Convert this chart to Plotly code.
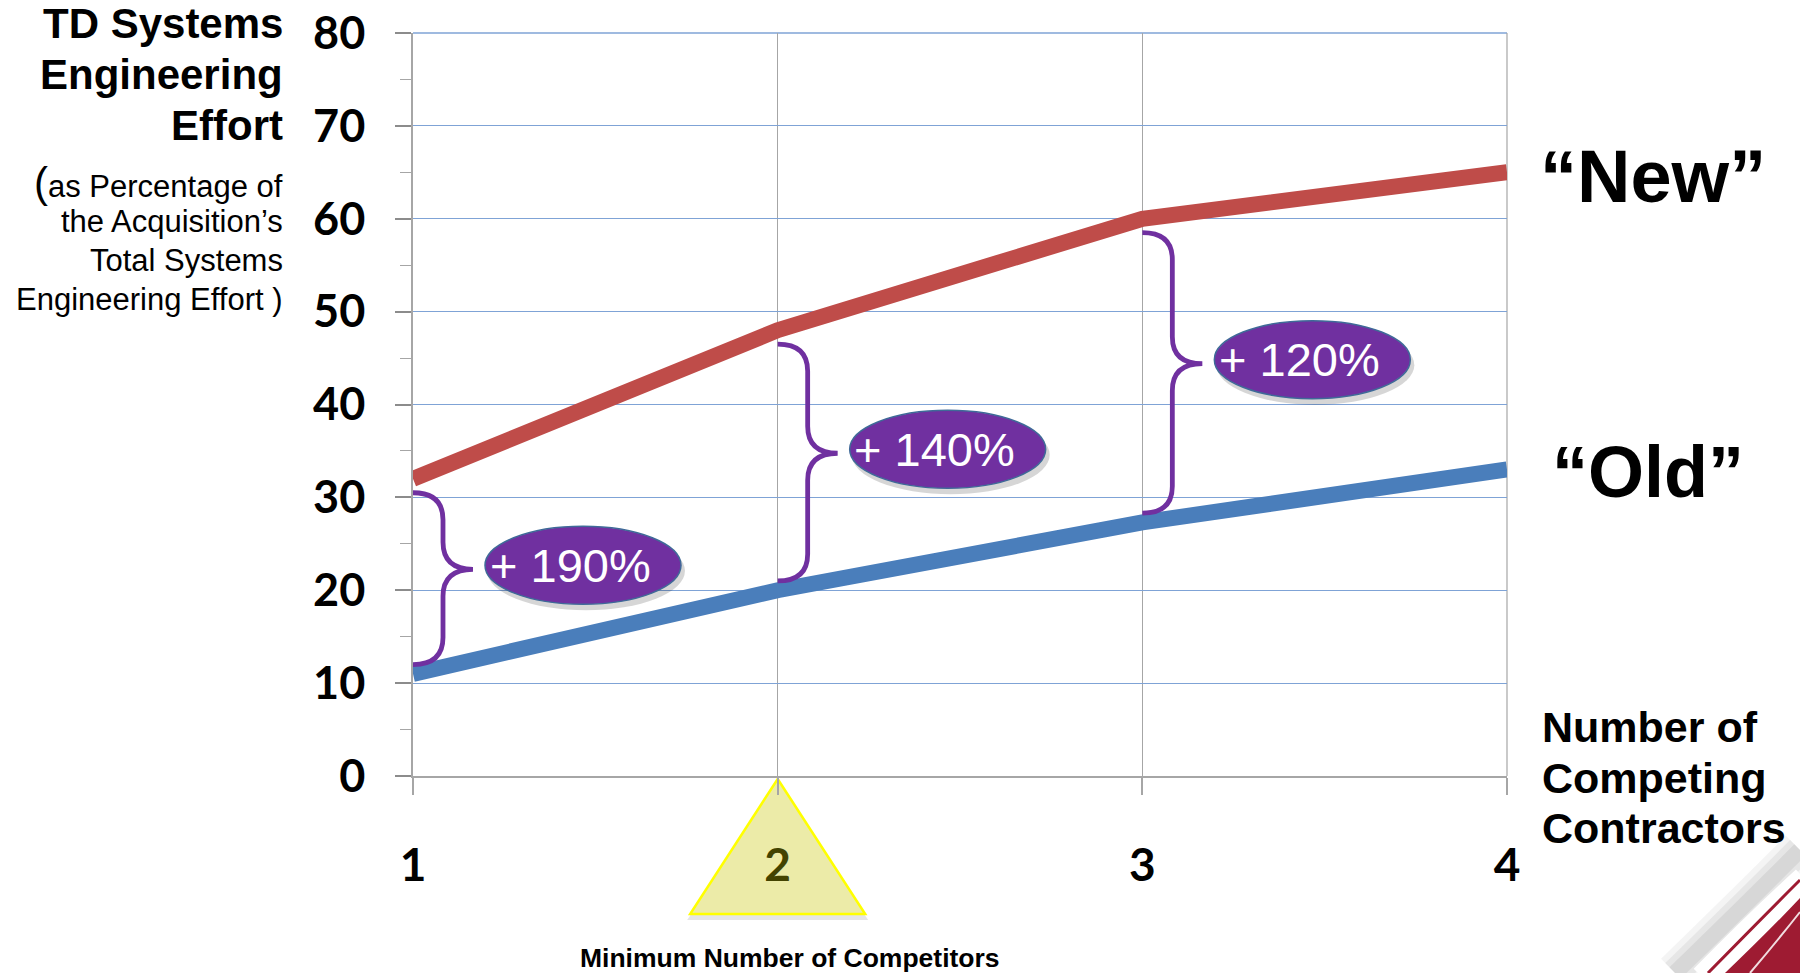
import plotly.graph_objects as go

# ---------------- data ----------------
competitors = [1, 2, 3, 4]
new_effort = [32, 48, 60, 65]
old_effort = [11, 20, 27.3, 33]
pct_labels = ["+ 190%", "+ 140%", "+ 120%"]
x_tick_text = ["1", "<span style='color:#434300'>2</span>", "3", "4"]
y_tick_vals = [0, 10, 20, 30, 40, 50, 60, 70, 80]

# ---------------- layout geometry ----------------
W, H = 1800, 973
L, R, T, B = 413, 293, 33, 197
PW, PH = W - L - R, H - T - B
XMIN, XMAX, YMIN, YMAX = 1, 4, 0, 80
UX = PW / (XMAX - XMIN)   # px per x unit
UY = PH / (YMAX - YMIN)   # px per y unit


def px(xp):
    return (xp - L) / PW


def py(yp):
    return (H - B - yp) / PH


ARIAL = "Liberation Sans, Arial, sans-serif"
TICKF = "Lato, Calibri, sans-serif"
PURPLE = "#7030A0"

fig = go.Figure()
fig.add_trace(go.Scatter(x=competitors, y=new_effort, mode="lines",
                         line=dict(color="#BF4C49", width=16), name="New",
                         showlegend=False))
fig.add_trace(go.Scatter(x=competitors, y=old_effort, mode="lines",
                         line=dict(color="#4A7EBB", width=16), name="Old",
                         showlegend=False))

shapes = []
annotations = []


def note(x, y, text, size, xanchor="center", yanchor="middle", **kw):
    d = dict(x=x, y=y, xref="paper", yref="paper", text=text, showarrow=False,
             xanchor=xanchor, yanchor=yanchor,
             font=dict(family=ARIAL, size=size, color="black"))
    d.update(kw)
    annotations.append(d)


# gridlines at the top edge (y=80) and right edge (x=4)
shapes.append(dict(type="line", xref="paper", yref="paper", x0=0, x1=1, y0=1, y1=1,
                   line=dict(color="#7FA3D6", width=1.3), layer="below"))
shapes.append(dict(type="line", xref="paper", yref="paper", x0=1, x1=1, y0=0,
                   y1=1, line=dict(color="#A6A6A6", width=1.2), layer="below"))

# braces + ellipses
for i, lab in enumerate(pct_labels):
    x0 = competitors[i]
    top = new_effort[i] - 1.5
    bot = old_effort[i] + 1.0
    mid = (top + bot) / 2 + 1.0
    xs = x0 + 30 / UX
    xt = x0 + 60 / UX
    r = 27 / UY
    path = (f"M {x0},{top} Q {xs},{top} {xs},{top - r} L {xs},{mid + r} "
            f"Q {xs},{mid} {xt},{mid} Q {xs},{mid} {xs},{mid - r} "
            f"L {xs},{bot + r} Q {xs},{bot} {x0},{bot}")
    shapes.append(dict(type="path", path=path, xref="x", yref="y",
                       line=dict(color=PURPLE, width=4.8), layer="above"))
    # shadow
    shapes.append(dict(type="circle", xref="x", yref="y", xsizemode="pixel",
                       ysizemode="pixel", xanchor=xt, yanchor=mid,
                       x0=14, x1=212, y0=-41, y1=38,
                       fillcolor="rgba(0,0,0,0.16)", line=dict(width=0),
                       layer="above"))
    shapes.append(dict(type="circle", xref="x", yref="y", xsizemode="pixel",
                       ysizemode="pixel", xanchor=xt, yanchor=mid,
                       x0=12, x1=208, y0=-35, y1=43,
                       fillcolor=PURPLE, line=dict(color="#3F6A98", width=1.5),
                       layer="above"))
    annotations.append(dict(x=xt, y=mid, xref="x", yref="y", text=lab,
                            showarrow=False, xshift=97, yshift=4,
                            xanchor="center", yanchor="middle",
                            font=dict(family=ARIAL, size=47, color="white")))

# triangle marking minimum number of competitors
ax = (2 - XMIN) / (XMAX - XMIN)
dx = 87.5 / PW
shapes.append(dict(type="path", xref="paper", yref="paper", layer="below",
                   path=f"M {ax},{py(783)} L {ax + dx + 3/PW},{py(920)} L {ax - dx - 3/PW},{py(920)} Z",
                   fillcolor="rgba(0,0,0,0.10)", line=dict(width=0)))
shapes.append(dict(type="path", xref="paper", yref="paper", layer="below",
                   path=f"M {ax},{py(779)} L {ax + dx},{py(914)} L {ax - dx},{py(914)} Z",
                   fillcolor="#ECEBA8", line=dict(color="#FFFF00", width=2.5)))

# decorative swoosh bottom-right
for k, (w, op) in enumerate([(40, 0.10), (28, 0.14), (16, 0.18)]):
    shapes.append(dict(type="path", xref="paper", yref="paper", layer="below",
                       path=f"M {px(1675)},{py(973)} Q {px(1745)},{py(905)} {px(1800)},{py(850)}",
                       line=dict(color=f"rgba(150,150,150,{op})", width=w)))
shapes.append(dict(type="path", xref="paper", yref="paper", layer="below",
                   path=f"M {px(1698)},{py(973)} Q {px(1755)},{py(915)} {px(1800)},{py(874)}",
                   line=dict(color="white", width=12)))
shapes.append(dict(type="path", xref="paper", yref="paper", layer="below",
                   path=f"M {px(1708)},{py(973)} Q {px(1760)},{py(920)} {px(1800)},{py(880)}",
                   line=dict(color="#9E1B32", width=3)))
shapes.append(dict(type="path", xref="paper", yref="paper", layer="below",
                   path=f"M {px(1725)},{py(973)} Q {px(1770)},{py(930)} {px(1800)},{py(898)} "
                        f"L {px(1800)},{py(973)} Z",
                   fillcolor="#9E1B32", line=dict(width=0)))
shapes.append(dict(type="path", xref="paper", yref="paper", layer="below",
                   path=f"M {px(1750)},{py(973)} Q {px(1778)},{py(940)} {px(1800)},{py(912)}",
                   line=dict(color="rgba(255,255,255,0.85)", width=2)))

# left axis title
for txt, yc in [("TD Systems", 24), ("Engineering", 75), ("Effort", 126)]:
    note(px(285), py(yc), f"<b>{txt}</b>", 42, xanchor="right")
norm_lines = [("<span style='font-size:42px'>(</span>as Percentage of", 182),
              ("the Acquisition’s", 221), ("Total Systems", 260),
              ("Engineering Effort )", 299)]
for txt, yc in norm_lines:
    note(px(285), py(yc), txt, 31, xanchor="right")

# series labels
note(px(1653), py(176), "<b>“New”</b>", 74)
note(px(1648), py(472), "<b>“Old”</b>", 72)

# x axis title
for txt, yc in [("Number of", 727), ("Competing", 778), ("Contractors", 828)]:
    note(px(1540), py(yc), f"<b>{txt}</b>", 43, xanchor="left")

note(px(790), py(958), "<b>Minimum Number of Competitors</b>", 26.5)

fig.update_layout(
    width=W, height=H,
    margin=dict(l=L, r=R, t=T, b=B, pad=0),
    paper_bgcolor="white", plot_bgcolor="white",
    shapes=shapes, annotations=annotations,
    xaxis=dict(range=[XMIN, XMAX], tickvals=competitors, ticktext=x_tick_text,
               showgrid=True, gridcolor="#A6A6A6", gridwidth=1,
               showline=True, linecolor="#A6A6A6", linewidth=1.5,
               ticks="outside", ticklen=17, tickcolor="#A6A6A6", tickwidth=1.5,
               tickfont=dict(family=TICKF, size=46, color="black", weight="bold"),
               ticklabelstandoff=31, zeroline=False, fixedrange=True,
               automargin=False),
    yaxis=dict(range=[YMIN, YMAX], tickvals=y_tick_vals,
               showgrid=True, gridcolor="#7FA3D6", gridwidth=1.3,
               showline=True, linecolor="#A6A6A6", linewidth=1.5,
               ticks="outside", ticklen=16, tickcolor="#8C8C8C", tickwidth=1.5,
               minor=dict(dtick=5, tick0=0, ticks="outside", ticklen=11,
                          tickcolor="#A6A6A6", tickwidth=1.2, showgrid=False),
               tickfont=dict(family=TICKF, size=45, color="black", weight="bold"),
               ticklabelstandoff=21, zeroline=False, fixedrange=True,
               automargin=False),
)

fig.write_html("out.html")
